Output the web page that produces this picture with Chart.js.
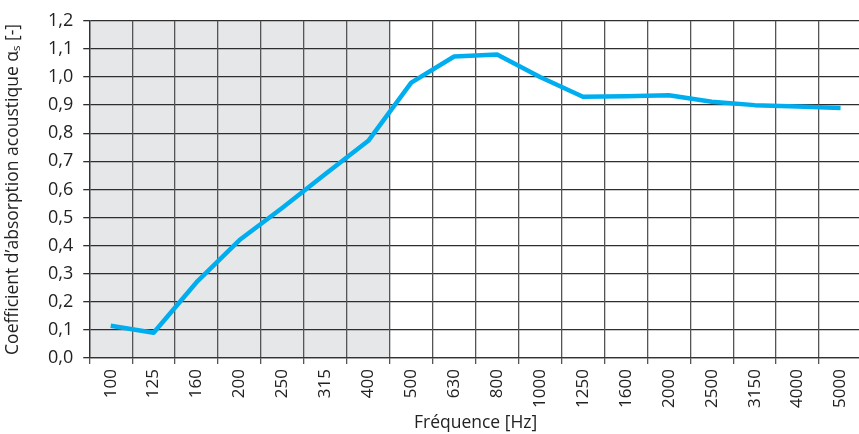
<!DOCTYPE html>
<html>
<head>
<meta charset="utf-8">
<script src="https://cdn.jsdelivr.net/npm/chart.js@4"></script>
<style>
    html, body { margin: 0; padding: 0; background: #fff; overflow: hidden; }
    #wrap { width: 866px; height: 434px; }
</style>
</head>
<body>
<div id="wrap"><canvas id="absorptionChart"></canvas></div>
<script>
// fréquences en tiers d'octave
const frequencies = ['100', '125', '160', '200', '250', '315', '400', '500', '630', '800', '1000', '1250', '1600', '2000', '2500', '3150', '4000', '5000'];
const alphaS = [0.115, 0.09, 0.27, 0.42, 0.535, 0.655, 0.773, 0.98, 1.073, 1.08, 1.0, 0.93, 0.932, 0.935, 0.912, 0.90, 0.895, 0.89];
const yTickLabels = ['0,0', '0,1', '0,2', '0,3', '0,4', '0,5', '0,6', '0,7', '0,8', '0,9', '1,0', '1,1', '1,2'];
// zone grisée : de 100 à 400 Hz
const shadedFrom = '100';
const shadedTo = '400';

const shadePlugin = {
    id: 'shade',
    beforeDraw(chart) {
        const { ctx, chartArea, scales } = chart;
        const x = scales.x;
        const half = (x.getPixelForValue(1) - x.getPixelForValue(0)) / 2;
        const x0 = x.getPixelForValue(frequencies.indexOf(shadedFrom)) - half;
        const x1 = x.getPixelForValue(frequencies.indexOf(shadedTo)) + half;
        ctx.save();
        ctx.fillStyle = '#e6e7e9';
        ctx.fillRect(x0, chartArea.top, x1 - x0, chartArea.bottom - chartArea.top);
        ctx.restore();
    }
};

Chart.defaults.font.family = "'Open Sans', 'Noto Sans', sans-serif";
Chart.defaults.color = '#222';

const ctx = document.getElementById('absorptionChart').getContext('2d');
const absorptionChart = new Chart(ctx, {
    type: 'line',
    data: {
        labels: frequencies,
        datasets: [
            {
                label: 'αs',
                data: alphaS,
                borderColor: '#00aeef',
                backgroundColor: '#00aeef',
                borderWidth: 4.5,
                pointRadius: 0,
                tension: 0,
                borderJoinStyle: 'round'
            }
        ]
    },
    options: {
        responsive: true,
        maintainAspectRatio: false,
        animation: false,
        layout: {
            padding: { top: 4, right: 2, left: 1, bottom: 0 }
        },
        scales: {
            y: {
                min: 0,
                max: 1.2,
                ticks: {
                    stepSize: 0.1,
                    padding: 10,
                    color: '#222',
                    font: { size: 18 },
                    callback: (v, i) => yTickLabels[i]
                },
                grid: {
                    color: '#2e2e2e',
                    lineWidth: 1.3,
                    tickLength: 6
                },
                border: { color: '#333', width: 1.3 },
                title: {
                    display: true,
                    text: 'Coefficient d’absorption acoustique αₛ [-]',
                    color: '#222',
                    padding: { top: 2, bottom: 14 },
                    font: { size: 17.5 }
                }
            },
            x: {
                offset: true,
                ticks: {
                    minRotation: 90,
                    maxRotation: 90,
                    autoSkip: false,
                    padding: 5,
                    color: '#222',
                    font: { size: 17 }
                },
                grid: {
                    offset: true,
                    color: '#555',
                    lineWidth: 1.3,
                    tickLength: 6
                },
                border: { color: '#333', width: 1.3 },
                title: {
                    display: true,
                    text: 'Fréquence [Hz]',
                    color: '#222',
                    padding: { top: 0, bottom: 0 },
                    font: { size: 17.5 }
                }
            }
        },
        plugins: {
            legend: { display: false },
            tooltip: { enabled: false }
        }
    },
    plugins: [shadePlugin]
});
</script>
</body>
</html>
